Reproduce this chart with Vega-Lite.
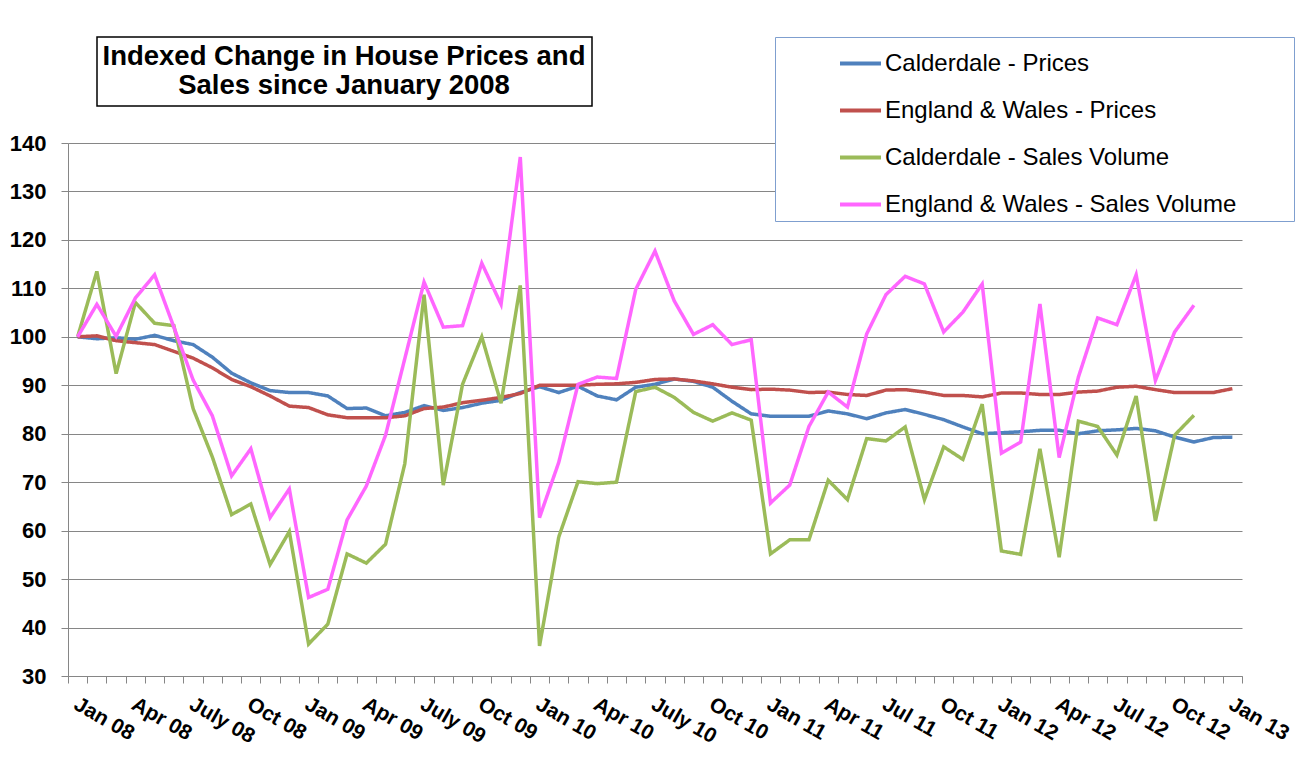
{
  "$schema": "https://vega.github.io/schema/vega-lite/v6.json",
  "autosize": {"type": "none"},
  "padding": {"left": 68, "top": 143, "right": 64, "bottom": 93},
  "width": 1174,
  "height": 533,
  "background": "#ffffff",
  "config": {"view": {"stroke": null}},
  "data": {
    "values": [
      {"month": "Jan 08", "Calderdale - Prices": 100, "England & Wales - Prices": 100, "Calderdale - Sales Volume": 100, "England & Wales - Sales Volume": 100},
      {"month": "Feb 08", "Calderdale - Prices": 99.6, "England & Wales - Prices": 100.2, "Calderdale - Sales Volume": 113.5, "England & Wales - Sales Volume": 106.7},
      {"month": "Mar 08", "Calderdale - Prices": 99.8, "England & Wales - Prices": 99.2, "Calderdale - Sales Volume": 92.4, "England & Wales - Sales Volume": 100.1},
      {"month": "Apr 08", "Calderdale - Prices": 99.5, "England & Wales - Prices": 98.8, "Calderdale - Sales Volume": 107.1, "England & Wales - Sales Volume": 108},
      {"month": "May 08", "Calderdale - Prices": 100.3, "England & Wales - Prices": 98.4, "Calderdale - Sales Volume": 102.8, "England & Wales - Sales Volume": 112.8},
      {"month": "Jun 08", "Calderdale - Prices": 99.2, "England & Wales - Prices": 97.0, "Calderdale - Sales Volume": 102.3, "England & Wales - Sales Volume": 102},
      {"month": "July 08", "Calderdale - Prices": 98.4, "England & Wales - Prices": 95.6, "Calderdale - Sales Volume": 85.2, "England & Wales - Sales Volume": 91.1},
      {"month": "Aug 08", "Calderdale - Prices": 95.8, "England & Wales - Prices": 93.6, "Calderdale - Sales Volume": 75.2, "England & Wales - Sales Volume": 83.7},
      {"month": "Sep 08", "Calderdale - Prices": 92.5, "England & Wales - Prices": 91.2, "Calderdale - Sales Volume": 63.3, "England & Wales - Sales Volume": 71.3},
      {"month": "Oct 08", "Calderdale - Prices": 90.5, "England & Wales - Prices": 89.7, "Calderdale - Sales Volume": 65.5, "England & Wales - Sales Volume": 76.9},
      {"month": "Nov 08", "Calderdale - Prices": 88.9, "England & Wales - Prices": 87.8, "Calderdale - Sales Volume": 53.0, "England & Wales - Sales Volume": 62.7},
      {"month": "Dec 08", "Calderdale - Prices": 88.5, "England & Wales - Prices": 85.7, "Calderdale - Sales Volume": 59.8, "England & Wales - Sales Volume": 68.6},
      {"month": "Jan 09", "Calderdale - Prices": 88.5, "England & Wales - Prices": 85.4, "Calderdale - Sales Volume": 36.6, "England & Wales - Sales Volume": 46.2},
      {"month": "Feb 09", "Calderdale - Prices": 87.8, "England & Wales - Prices": 83.9, "Calderdale - Sales Volume": 40.7, "England & Wales - Sales Volume": 47.9},
      {"month": "Mar 09", "Calderdale - Prices": 85.2, "England & Wales - Prices": 83.3, "Calderdale - Sales Volume": 55.2, "England & Wales - Sales Volume": 62.2},
      {"month": "Apr 09", "Calderdale - Prices": 85.3, "England & Wales - Prices": 83.3, "Calderdale - Sales Volume": 53.3, "England & Wales - Sales Volume": 69.2},
      {"month": "May 09", "Calderdale - Prices": 83.7, "England & Wales - Prices": 83.3, "Calderdale - Sales Volume": 57.2, "England & Wales - Sales Volume": 79.7},
      {"month": "Jun 09", "Calderdale - Prices": 84.4, "England & Wales - Prices": 83.7, "Calderdale - Sales Volume": 73.8, "England & Wales - Sales Volume": 95.5},
      {"month": "July 09", "Calderdale - Prices": 85.8, "England & Wales - Prices": 85.2, "Calderdale - Sales Volume": 108.7, "England & Wales - Sales Volume": 111.3},
      {"month": "Aug 09", "Calderdale - Prices": 84.8, "England & Wales - Prices": 85.5, "Calderdale - Sales Volume": 69.4, "England & Wales - Sales Volume": 102},
      {"month": "Sep 09", "Calderdale - Prices": 85.4, "England & Wales - Prices": 86.4, "Calderdale - Sales Volume": 90.2, "England & Wales - Sales Volume": 102.3},
      {"month": "Oct 09", "Calderdale - Prices": 86.3, "England & Wales - Prices": 86.9, "Calderdale - Sales Volume": 100, "England & Wales - Sales Volume": 115.2},
      {"month": "Nov 09", "Calderdale - Prices": 86.9, "England & Wales - Prices": 87.5, "Calderdale - Sales Volume": 86.3, "England & Wales - Sales Volume": 106.7},
      {"month": "Dec 09", "Calderdale - Prices": 88.5, "England & Wales - Prices": 88.3, "Calderdale - Sales Volume": 110.6, "England & Wales - Sales Volume": 137.1},
      {"month": "Jan 10", "Calderdale - Prices": 89.7, "England & Wales - Prices": 90.0, "Calderdale - Sales Volume": 36.2, "England & Wales - Sales Volume": 62.7},
      {"month": "Feb 10", "Calderdale - Prices": 88.5, "England & Wales - Prices": 90.0, "Calderdale - Sales Volume": 58.7, "England & Wales - Sales Volume": 74.1},
      {"month": "Mar 10", "Calderdale - Prices": 89.8, "England & Wales - Prices": 90.0, "Calderdale - Sales Volume": 70.1, "England & Wales - Sales Volume": 90.2},
      {"month": "Apr 10", "Calderdale - Prices": 87.8, "England & Wales - Prices": 90.2, "Calderdale - Sales Volume": 69.7, "England & Wales - Sales Volume": 91.7},
      {"month": "May 10", "Calderdale - Prices": 87.0, "England & Wales - Prices": 90.3, "Calderdale - Sales Volume": 70.0, "England & Wales - Sales Volume": 91.4},
      {"month": "Jun 10", "Calderdale - Prices": 89.6, "England & Wales - Prices": 90.6, "Calderdale - Sales Volume": 88.7, "England & Wales - Sales Volume": 109.8},
      {"month": "July 10", "Calderdale - Prices": 90.2, "England & Wales - Prices": 91.2, "Calderdale - Sales Volume": 89.6, "England & Wales - Sales Volume": 117.7},
      {"month": "Aug 10", "Calderdale - Prices": 91.3, "England & Wales - Prices": 91.3, "Calderdale - Sales Volume": 87.5, "England & Wales - Sales Volume": 107.4},
      {"month": "Sep 10", "Calderdale - Prices": 90.8, "England & Wales - Prices": 90.9, "Calderdale - Sales Volume": 84.4, "England & Wales - Sales Volume": 100.5},
      {"month": "Oct 10", "Calderdale - Prices": 89.6, "England & Wales - Prices": 90.3, "Calderdale - Sales Volume": 82.6, "England & Wales - Sales Volume": 102.5},
      {"month": "Nov 10", "Calderdale - Prices": 86.7, "England & Wales - Prices": 89.6, "Calderdale - Sales Volume": 84.3, "England & Wales - Sales Volume": 98.4},
      {"month": "Dec 10", "Calderdale - Prices": 84.1, "England & Wales - Prices": 89.1, "Calderdale - Sales Volume": 82.8, "England & Wales - Sales Volume": 99.4},
      {"month": "Jan 11", "Calderdale - Prices": 83.6, "England & Wales - Prices": 89.2, "Calderdale - Sales Volume": 55.2, "England & Wales - Sales Volume": 65.7},
      {"month": "Feb 11", "Calderdale - Prices": 83.6, "England & Wales - Prices": 89.0, "Calderdale - Sales Volume": 58.1, "England & Wales - Sales Volume": 69.4},
      {"month": "Mar 11", "Calderdale - Prices": 83.6, "England & Wales - Prices": 88.5, "Calderdale - Sales Volume": 58.1, "England & Wales - Sales Volume": 81.5},
      {"month": "Apr 11", "Calderdale - Prices": 84.7, "England & Wales - Prices": 88.6, "Calderdale - Sales Volume": 70.4, "England & Wales - Sales Volume": 88.6},
      {"month": "May 11", "Calderdale - Prices": 84.1, "England & Wales - Prices": 88.1, "Calderdale - Sales Volume": 66.4, "England & Wales - Sales Volume": 85.5},
      {"month": "Jun 11", "Calderdale - Prices": 83.1, "England & Wales - Prices": 87.9, "Calderdale - Sales Volume": 79.0, "England & Wales - Sales Volume": 100.6},
      {"month": "Jul 11", "Calderdale - Prices": 84.3, "England & Wales - Prices": 89.0, "Calderdale - Sales Volume": 78.5, "England & Wales - Sales Volume": 108.7},
      {"month": "Aug 11", "Calderdale - Prices": 85.0, "England & Wales - Prices": 89.1, "Calderdale - Sales Volume": 81.4, "England & Wales - Sales Volume": 112.5},
      {"month": "Sep 11", "Calderdale - Prices": 84.0, "England & Wales - Prices": 88.6, "Calderdale - Sales Volume": 66.4, "England & Wales - Sales Volume": 110.9},
      {"month": "Oct 11", "Calderdale - Prices": 82.9, "England & Wales - Prices": 87.9, "Calderdale - Sales Volume": 77.3, "England & Wales - Sales Volume": 101},
      {"month": "Nov 11", "Calderdale - Prices": 81.4, "England & Wales - Prices": 87.9, "Calderdale - Sales Volume": 74.7, "England & Wales - Sales Volume": 105.1},
      {"month": "Dec 11", "Calderdale - Prices": 80.0, "England & Wales - Prices": 87.6, "Calderdale - Sales Volume": 86.1, "England & Wales - Sales Volume": 110.9},
      {"month": "Jan 12", "Calderdale - Prices": 80.2, "England & Wales - Prices": 88.4, "Calderdale - Sales Volume": 55.8, "England & Wales - Sales Volume": 76},
      {"month": "Feb 12", "Calderdale - Prices": 80.4, "England & Wales - Prices": 88.4, "Calderdale - Sales Volume": 55.1, "England & Wales - Sales Volume": 78.3},
      {"month": "Mar 12", "Calderdale - Prices": 80.7, "England & Wales - Prices": 88.1, "Calderdale - Sales Volume": 76.9, "England & Wales - Sales Volume": 106.8},
      {"month": "Apr 12", "Calderdale - Prices": 80.7, "England & Wales - Prices": 88.1, "Calderdale - Sales Volume": 54.5, "England & Wales - Sales Volume": 75.1},
      {"month": "May 12", "Calderdale - Prices": 80.0, "England & Wales - Prices": 88.6, "Calderdale - Sales Volume": 82.6, "England & Wales - Sales Volume": 91.7},
      {"month": "Jun 12", "Calderdale - Prices": 80.6, "England & Wales - Prices": 88.8, "Calderdale - Sales Volume": 81.5, "England & Wales - Sales Volume": 103.9},
      {"month": "Jul 12", "Calderdale - Prices": 80.8, "England & Wales - Prices": 89.6, "Calderdale - Sales Volume": 75.6, "England & Wales - Sales Volume": 102.5},
      {"month": "Aug 12", "Calderdale - Prices": 81.1, "England & Wales - Prices": 89.8, "Calderdale - Sales Volume": 87.8, "England & Wales - Sales Volume": 112.8},
      {"month": "Sep 12", "Calderdale - Prices": 80.6, "England & Wales - Prices": 89.1, "Calderdale - Sales Volume": 62.0, "England & Wales - Sales Volume": 91},
      {"month": "Oct 12", "Calderdale - Prices": 79.3, "England & Wales - Prices": 88.5, "Calderdale - Sales Volume": 79.7, "England & Wales - Sales Volume": 101},
      {"month": "Nov 12", "Calderdale - Prices": 78.3, "England & Wales - Prices": 88.5, "Calderdale - Sales Volume": 83.8, "England & Wales - Sales Volume": 106.5},
      {"month": "Dec 12", "Calderdale - Prices": 79.2, "England & Wales - Prices": 88.5, "Calderdale - Sales Volume": null, "England & Wales - Sales Volume": null},
      {"month": "Jan 13", "Calderdale - Prices": 79.3, "England & Wales - Prices": 89.3, "Calderdale - Sales Volume": null, "England & Wales - Sales Volume": null}
    ]
  },
  "transform": [
    {"fold": ["Calderdale - Prices", "England & Wales - Prices", "Calderdale - Sales Volume", "England & Wales - Sales Volume"], "as": ["series", "value"]}
  ],
  "mark": {"type": "line", "strokeWidth": 3.5, "strokeJoin": "miter"},
  "encoding": {
    "x": {
      "field": "month",
      "type": "ordinal",
      "sort": null,
      "scale": {"type": "band", "paddingInner": 0, "paddingOuter": 0},
      "axis": {
        "title": null,
        "grid": false,
        "tickBand": "extent",
        "tickSize": 7,
        "tickColor": "#868686",
        "domainColor": "#868686",
        "labelAngle": 30,
        "labelAlign": "left",
        "labelBaseline": "top",
        "labelPadding": 10,
        "labelOffset": 3,
        "labelOverlap": false,
        "labelExpr": "test('^(Jan|Apr|Jul|Oct)', datum.label) ? datum.label : ''",
        "labelFont": "Liberation Sans",
        "labelFontSize": 21,
        "labelFontWeight": "bold",
        "labelColor": "#000000"
      }
    },
    "y": {
      "field": "value",
      "type": "quantitative",
      "scale": {"domain": [30, 140], "nice": false, "zero": false},
      "axis": {
        "title": null,
        "values": [30, 40, 50, 60, 70, 80, 90, 100, 110, 120, 130, 140],
        "grid": true,
        "gridColor": "#868686",
        "gridWidth": 1,
        "tickSize": 7,
        "tickColor": "#868686",
        "domainColor": "#868686",
        "labelPadding": 15,
        "labelFont": "Liberation Sans",
        "labelFontSize": 22,
        "labelFontWeight": "bold",
        "labelColor": "#000000"
      }
    },
    "color": {
      "field": "series",
      "type": "nominal",
      "scale": {
        "domain": ["Calderdale - Prices", "England & Wales - Prices", "Calderdale - Sales Volume", "England & Wales - Sales Volume"],
        "range": ["#4F81BD", "#C0504D", "#9BBB59", "#FF66FF"]
      },
      "legend": {
        "title": "\u00a0",
        "titleOrient": "right",
        "titlePadding": 54,
        "titleFontSize": 8,
        "orient": "none",
        "legendX": 707,
        "legendY": -106,
        "symbolType": "stroke",
        "symbolStrokeWidth": 4,
        "symbolSize": 1681,
        "symbolOffset": 59,
        "labelOffset": 2,
        "labelFont": "Liberation Sans",
        "labelFontSize": 24,
        "labelColor": "#000000",
        "labelLimit": 800,
        "rowPadding": 12,
        "padding": 4,
        "strokeColor": "#7F9FCF",
        "fillColor": "#ffffff"
      }
    },
    "strokeDash": {
      "datum": "title",
      "scale": {"range": [[1, 0]]},
      "legend": {
        "title": ["Indexed Change in House Prices and", "Sales since January 2008"],
        "orient": "none",
        "legendX": 29,
        "legendY": -106,
        "titleFont": "Liberation Sans",
        "titleFontSize": 27.5,
        "titleFontWeight": "bold",
        "titleColor": "#000000",
        "titleAlign": "center",
        "titleAnchor": "middle",
        "titleLineHeight": 29,
        "titlePadding": 0,
        "titleLimit": 1000,
        "labelExpr": "''",
        "labelFontSize": 1,
        "symbolSize": 0,
        "symbolOpacity": 0,
        "symbolStrokeWidth": 0,
        "padding": 6,
        "strokeColor": "#000000",
        "fillColor": "#ffffff",
        "encode": {"legend": {"update": {"strokeWidth": {"value": 1.5}}}}
      }
    }
  }
}
